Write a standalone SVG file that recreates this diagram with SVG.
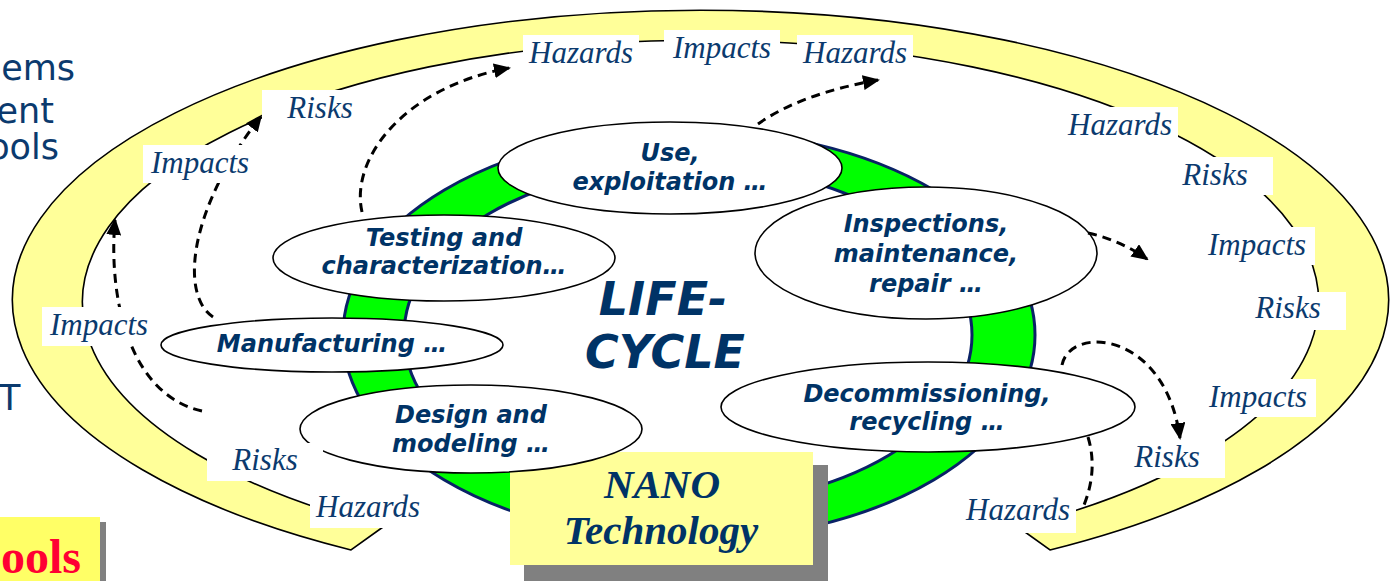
<svg xmlns="http://www.w3.org/2000/svg" width="1391" height="581" viewBox="0 0 1391 581">
  <style>
    .side { font-family: "DejaVu Sans", Verdana, sans-serif; font-size: 35px; fill: #0b3a6e; }
    .stage { fill: #ffffff; stroke: #000000; stroke-width: 1.6; }
    .stage-text { font-family: "DejaVu Sans", Verdana, sans-serif; font-size: 24px; font-weight: bold; font-style: italic; fill: #003366; text-anchor: middle; }
    .title { font-family: "DejaVu Sans", Verdana, sans-serif; font-size: 46px; font-weight: bold; font-style: italic; fill: #003366; text-anchor: middle; }
    .tag-box { fill: #ffffff; }
    .tag { font-family: "Liberation Serif", "Times New Roman", serif; font-size: 31px; font-style: italic; fill: #0b3a6e; text-anchor: middle; }
    .flow { fill: none; stroke: #000000; stroke-width: 3; stroke-dasharray: 9 6; }
    .nano { font-family: "Liberation Serif", "Times New Roman", serif; font-size: 41px; font-weight: bold; font-style: italic; fill: #003366; text-anchor: middle; }
  </style>
  <defs>
    <marker id="arrowhead" markerUnits="userSpaceOnUse" markerWidth="17" markerHeight="15" refX="15" refY="7.5" orient="auto">
      <path d="M0,0 L17,7.5 L0,15 Z" fill="#000000"/>
    </marker>
  </defs>

  <rect width="1391" height="581" fill="#ffffff"/>

  <!-- clipped text running in from the left edge -->
  <g id="side-text">
    <text class="side" x="75" y="80" text-anchor="end">ems</text>
    <text class="side" x="54" y="123" text-anchor="end">ent</text>
    <text class="side" x="59" y="159" text-anchor="end">ools</text>
    <text class="side" x="-1" y="410">T</text>
  </g>

  <!-- tools banner, bottom left -->
  <g id="tools-banner">
    <rect x="6" y="522" width="100" height="70" fill="#808080"/>
    <rect x="-10" y="517" width="110" height="70" fill="#ffff66"/>
    <text x="81" y="573" text-anchor="end" font-family="'Liberation Serif', 'Times New Roman', serif" font-size="48" font-weight="bold" fill="#ff0033">ools</text>
  </g>

  <!-- outer yellow band (open at the bottom) -->
  <g id="outer-band">
    <path d="M 351 550 A 688 290 0 1 1 1050 550 L 1018 527 A 618 262 0 1 0 383 527 Z" fill="#ffff99" stroke="#000000" stroke-width="1.6" stroke-linejoin="miter"/>
  </g>

  <!-- green life-cycle ring -->
  <g id="life-cycle-ring">
    <path d="M 343 335 A 346 205 0 1 0 1035 335 A 346 205 0 1 0 343 335 Z M 404 335 A 284 170 0 1 0 972 335 A 284 170 0 1 0 404 335 Z" fill="#00ff00" fill-rule="evenodd" stroke="#0a2266" stroke-width="3"/>
  </g>

  <g id="life-cycle-title">
    <text class="title" x="663" y="315">LIFE-</text>
    <text class="title" x="665" y="368">CYCLE</text>
  </g>

  <g id="nano-technology">
    <rect x="524" y="465" width="304" height="116" fill="#808080"/>
    <rect x="510" y="452" width="303" height="113" fill="#ffff99"/>
    <text class="nano" x="662" y="498">NANO</text>
    <text class="nano" x="661" y="544">Technology</text>
  </g>

  <!-- life-cycle stages -->
  <g id="stage-use">
    <ellipse class="stage" cx="670" cy="168" rx="172" ry="46"/>
    <text class="stage-text" x="670" y="161">Use,</text>
    <text class="stage-text" x="670" y="190">exploitation …</text>
  </g>
  <g id="stage-testing">
    <ellipse class="stage" cx="444" cy="258" rx="171" ry="43"/>
    <text class="stage-text" x="444" y="246">Testing and</text>
    <text class="stage-text" x="444" y="274">characterization…</text>
  </g>
  <g id="stage-manufacturing">
    <ellipse class="stage" cx="332" cy="345" rx="171" ry="27"/>
    <text class="stage-text" x="332" y="352">Manufacturing …</text>
  </g>
  <g id="stage-design">
    <ellipse class="stage" cx="471" cy="429" rx="171" ry="44"/>
    <text class="stage-text" x="471" y="423">Design and</text>
    <text class="stage-text" x="471" y="452">modeling …</text>
  </g>
  <g id="stage-inspections">
    <ellipse class="stage" cx="926" cy="253" rx="171" ry="66"/>
    <text class="stage-text" x="926" y="232">Inspections,</text>
    <text class="stage-text" x="926" y="262">maintenance,</text>
    <text class="stage-text" x="926" y="292">repair …</text>
  </g>
  <g id="stage-decommissioning">
    <ellipse class="stage" cx="928" cy="407" rx="207" ry="45"/>
    <text class="stage-text" x="927" y="402">Decommissioning,</text>
    <text class="stage-text" x="927" y="430">recycling …</text>
  </g>

  <!-- dashed connectors -->
  <g id="connectors">
    <path class="flow" d="M 362 212 C 350 160 402 88 509 68" marker-end="url(#arrowhead)"/>
    <path class="flow" d="M 758 124 Q 800 94 878 80" marker-end="url(#arrowhead)"/>
    <path class="flow" d="M 1088 233 Q 1120 240 1147 259" marker-end="url(#arrowhead)"/>
    <path class="flow" d="M 1062 365 C 1070 325 1165 330 1180 438" marker-end="url(#arrowhead)"/>
    <path class="flow" d="M 1088 437 Q 1098 470 1084 505"/>
    <path class="flow" d="M 213 317 C 180 295 188 210 261 116" marker-end="url(#arrowhead)"/>
    <path class="flow" d="M 202 411 C 130 395 108 300 115 220" marker-end="url(#arrowhead)"/>
  </g>

  <!-- hazard / risk / impact tags on the band -->
  <g id="tag-hazards-1"><rect class="tag-box" x="523" y="35" width="116" height="38"/><text class="tag" x="581" y="63">Hazards</text></g>
  <g id="tag-impacts-1"><rect class="tag-box" x="664" y="30" width="116" height="38"/><text class="tag" x="722" y="58">Impacts</text></g>
  <g id="tag-hazards-2"><rect class="tag-box" x="797" y="35" width="116" height="38"/><text class="tag" x="855" y="63">Hazards</text></g>
  <g id="tag-hazards-3"><rect class="tag-box" x="1062" y="107" width="116" height="38"/><text class="tag" x="1120" y="135">Hazards</text></g>
  <g id="tag-risks-1"><rect class="tag-box" x="1157" y="157" width="116" height="38"/><text class="tag" x="1215" y="185">Risks</text></g>
  <g id="tag-impacts-2"><rect class="tag-box" x="1199" y="227" width="116" height="38"/><text class="tag" x="1257" y="255">Impacts</text></g>
  <g id="tag-risks-2"><rect class="tag-box" x="1230" y="292" width="116" height="38"/><text class="tag" x="1288" y="318">Risks</text></g>
  <g id="tag-impacts-3"><rect class="tag-box" x="1200" y="379" width="116" height="38"/><text class="tag" x="1258" y="407">Impacts</text></g>
  <g id="tag-risks-3"><rect class="tag-box" x="1109" y="440" width="116" height="38"/><text class="tag" x="1167" y="467">Risks</text></g>
  <g id="tag-hazards-4"><rect class="tag-box" x="960" y="495" width="116" height="38"/><text class="tag" x="1018" y="520">Hazards</text></g>
  <g id="tag-hazards-5"><rect class="tag-box" x="310" y="490" width="116" height="38"/><text class="tag" x="368" y="517">Hazards</text></g>
  <g id="tag-risks-4"><rect class="tag-box" x="207" y="443" width="116" height="38"/><text class="tag" x="265" y="470">Risks</text></g>
  <g id="tag-impacts-4"><rect class="tag-box" x="42" y="307" width="110" height="39"/><text class="tag" x="99" y="335">Impacts</text></g>
  <g id="tag-impacts-5"><rect class="tag-box" x="143" y="145" width="116" height="38"/><text class="tag" x="200" y="173">Impacts</text></g>
  <g id="tag-risks-5"><rect class="tag-box" x="262" y="90" width="116" height="38"/><text class="tag" x="320" y="118">Risks</text></g>
</svg>
